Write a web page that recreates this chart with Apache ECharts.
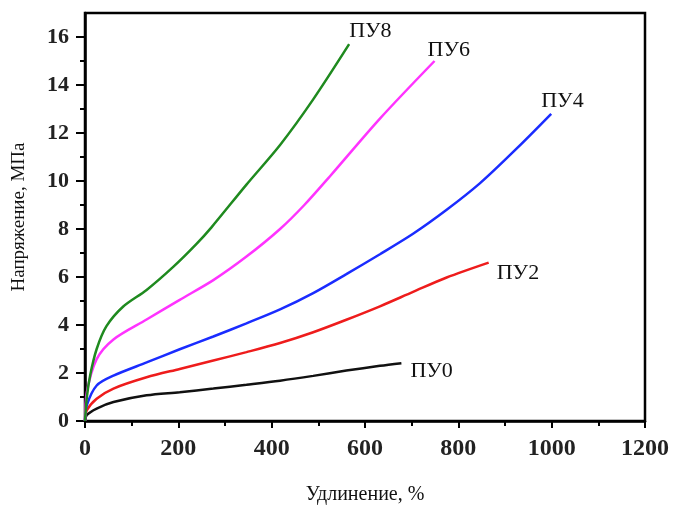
<!DOCTYPE html>
<html>
<head>
<meta charset="utf-8">
<script src="https://cdn.jsdelivr.net/npm/echarts@6/dist/echarts.min.js"></script>
<style>html,body{margin:0;padding:0;background:#fff}#c{width:683px;height:510px}</style>
</head>
<body>
<div id="c"></div>
<script>
// Data (elongation %, stress MPa)
const pu0 = [[0,0],[4,0.25],[25,0.52],[61,0.79],[132,1.07],[203,1.2],[275,1.35],[346,1.51],[418,1.68],[489,1.88],[560,2.1],[632,2.3],[678,2.41]];
const pu2 = [[0,0],[4,0.45],[25,0.93],[61,1.35],[132,1.82],[203,2.17],[275,2.52],[346,2.87],[418,3.25],[489,3.7],[560,4.22],[632,4.78],[703,5.38],[775,5.98],[865,6.6]];
const pu4 = [[0,0],[4,0.66],[25,1.48],[61,1.89],[132,2.44],[203,2.99],[275,3.52],[346,4.07],[418,4.65],[489,5.33],[560,6.12],[632,6.95],[703,7.8],[775,8.8],[846,9.9],[917,11.2],[999,12.8]];
const pu6 = [[0,0],[4,1.2],[25,2.58],[61,3.4],[132,4.23],[203,5.05],[275,5.87],[346,6.85],[418,8.0],[470,9.0],[525,10.2],[632,12.6],[749,15.0]];
const pu8 = [[0,0],[4,1.0],[11,1.9],[25,3.0],[46,3.95],[82,4.77],[132,5.46],[189,6.42],[239,7.38],[271,8.07],[346,9.85],[418,11.5],[489,13.4],[566,15.7]];
const seriesNames = ['ПУ0','ПУ2','ПУ4','ПУ6','ПУ8'];
const xMajorTicks = [0,200,400,600,800,1000,1200];
const xMinorTicks = [100,300,500,700,900,1100];
const yMajorTicks = [0,2,4,6,8,10,12,14,16];
const yMinorTicks = [1,3,5,7,9,11,13,15];

const chart = echarts.init(document.getElementById('c'));
const serif = 'Liberation Serif';
const colors = ['#111111','#ee1c1c','#1a2cff','#ff33ff','#1f8a1f'];
const datasets = [pu0, pu2, pu4, pu6, pu8];
const labelOffsets = [[9,8],[8,11],[-10,-13],[-7,-11],[0,-13]];

chart.setOption({
  animation: false,
  grid: {left: 85, right: 38, top: 13, bottom: 84, show: true, borderColor: '#000', borderWidth: 2.5, backgroundColor: '#fff'},
  xAxis: [{
    type: 'value', min: 0, max: 1200, position: 'bottom',
    name: 'Удлинение, %', nameLocation: 'middle', nameGap: 64,
    nameTextStyle: {fontFamily: serif, fontSize: 20, color: '#111'},
    axisLine: {show: true, onZero: false, lineStyle: {color: '#000', width: 2.5}},
    axisTick: {show: true, length: 7, customValues: xMajorTicks, lineStyle: {color: '#000', width: 2}},
    axisLabel: {customValues: xMajorTicks, formatter: v => String(v), margin: 16, fontFamily: serif, fontWeight: 'bold', fontSize: 24, color: '#222'},
    splitLine: {show: false}
  },{
    type: 'value', min: 0, max: 1200, position: 'bottom',
    axisLine: {show: false},
    axisTick: {show: true, length: 5, customValues: xMinorTicks, lineStyle: {color: '#000', width: 2}},
    axisLabel: {show: false},
    splitLine: {show: false}
  }],
  yAxis: [{
    type: 'value', min: 0, max: 17, position: 'left',
    name: 'Напряжение, МПа', nameLocation: 'middle', nameGap: 56,
    nameTextStyle: {fontFamily: serif, fontSize: 19, color: '#111'},
    axisLine: {show: true, onZero: false, lineStyle: {color: '#000', width: 2.5}},
    axisTick: {show: true, length: 9, customValues: yMajorTicks, lineStyle: {color: '#000', width: 2}},
    axisLabel: {customValues: yMajorTicks, formatter: v => String(v), margin: 16, fontFamily: serif, fontWeight: 'bold', fontSize: 22, color: '#222'},
    splitLine: {show: false}
  },{
    type: 'value', min: 0, max: 17, position: 'left',
    axisLine: {show: false},
    axisTick: {show: true, length: 5, customValues: yMinorTicks, lineStyle: {color: '#000', width: 2}},
    axisLabel: {show: false},
    splitLine: {show: false}
  }],
  series: datasets.map((d, i) => ({
    name: seriesNames[i],
    type: 'line',
    data: d,
    xAxisIndex: 0, yAxisIndex: 0,
    smooth: 0.3,
    showSymbol: false,
    lineStyle: {color: colors[i], width: 2.5},
    endLabel: {
      show: true, formatter: '{a}', distance: 0, offset: labelOffsets[i],
      fontFamily: serif, fontSize: 22, color: '#111'
    }
  }))
});
</script>
</body>
</html>
